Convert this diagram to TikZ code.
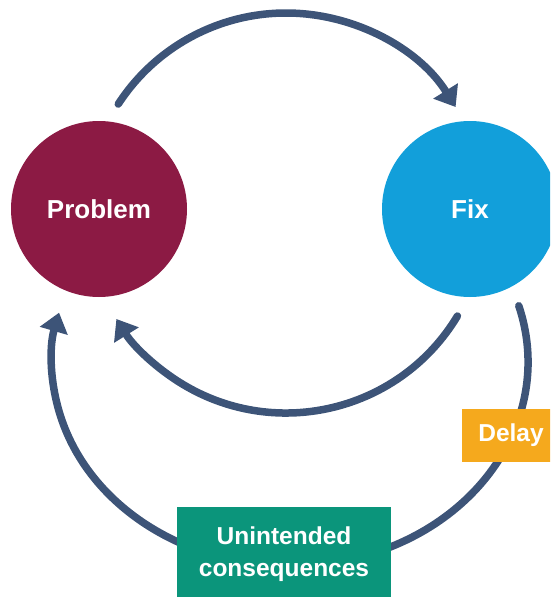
\documentclass[tikz,border=0pt]{standalone}
\usepackage{fontspec}
\setmainfont{Liberation Sans}
\usetikzlibrary{arrows.meta}

\definecolor{probred}{HTML}{8C1A44}
\definecolor{fixblue}{HTML}{129FDA}
\definecolor{delayamber}{HTML}{F5A91D}
\definecolor{sidegreen}{HTML}{0B957B}
\definecolor{linkblue}{HTML}{3D5478}

\begin{document}
\begin{tikzpicture}[x=1pt,y=1pt,
    loop/.style={draw=linkblue, line width=7.5pt, line cap=round,
      -{Triangle[length=19pt,width=28pt]}},
    bubble/.style={circle, minimum size=176pt, inner sep=0pt, text=white,
      font=\fontsize{26}{30}\selectfont\bfseries},
    tag/.style={rectangle, inner sep=0pt, text=white, align=center,
      font=\fontsize{24.5}{32}\selectfont\bfseries}]
    \useasboundingbox (0,0) rectangle (550,-597);
    \clip (0,0) rectangle (550,-597);

    % centres of the three loops
    \coordinate (hub) at (286,-213);
    \coordinate (ring) at (290,-362);

    % long loop behind the labels
    \draw [loop] (ring) ++(16:238 and 204)
        arc [start angle=16, end angle=-194, x radius=238, y radius=204];

    \node [bubble, fill=probred] (problem) at (99,-209) {Problem};
    \node [bubble, fill=fixblue] (fix) at (470,-209) {Fix};

    % short loop
    \draw [loop] (hub) ++(147:200) arc [start angle=147, end angle=32, radius=200];
    \draw [loop] (hub) ++(-31:200) arc [start angle=-31, end angle=-148, radius=200];

    \node [tag, fill=delayamber, minimum width=98pt, minimum height=53pt] (delay)
        at (511,-435.5) {Delay};
    \node [tag, fill=sidegreen, minimum width=214pt, minimum height=94pt] (side)
        at (284,-554) {Unintended\\consequences};
\end{tikzpicture}
\end{document}
